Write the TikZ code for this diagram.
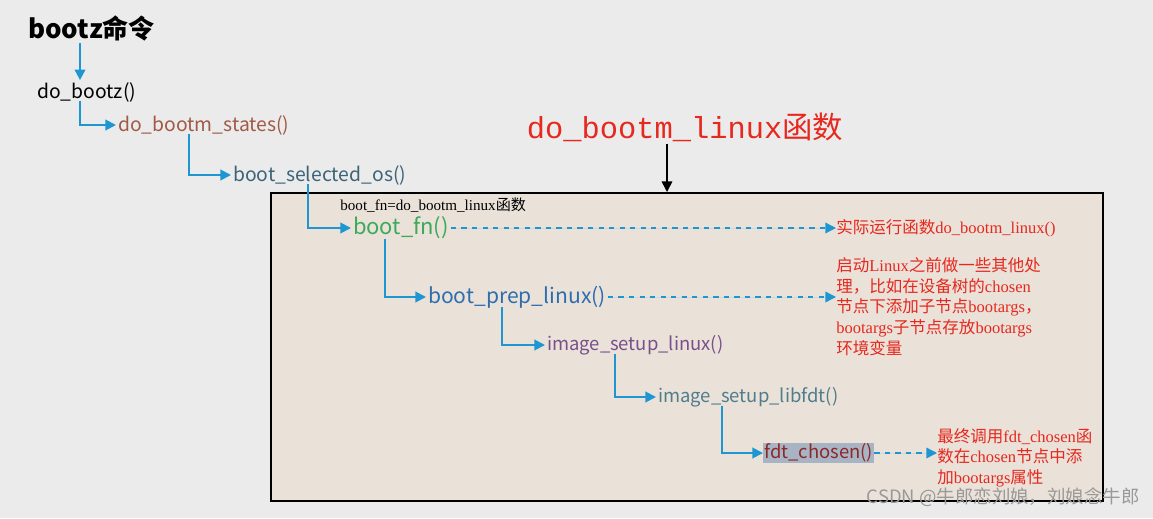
\documentclass[tikz,border=0pt]{standalone}
\usepackage{fontspec}
\setmainfont{Liberation Serif}
\setmonofont{Liberation Mono}
\newfontfamily\cjk{Noto Sans CJK SC}
\usetikzlibrary{arrows.meta}

\definecolor{pagegray}{RGB}{235,235,235}
\definecolor{boxbeige}{RGB}{234,225,216}
\definecolor{flowblue}{RGB}{30,150,210}
\definecolor{notered}{RGB}{230,40,30}
\definecolor{statescol}{RGB}{160,90,70}
\definecolor{selcol}{RGB}{60,100,120}
\definecolor{fncol}{RGB}{60,170,90}
\definecolor{prepcol}{RGB}{45,110,175}
\definecolor{setupcol}{RGB}{120,80,140}
\definecolor{libfdtcol}{RGB}{80,125,140}
\definecolor{chosencol}{RGB}{140,40,40}
\definecolor{marked}{RGB}{168,180,195}

\newcommand\zh[1]{{\cjk #1}}

\begin{document}
\begin{tikzpicture}[x=0.02cm, y=-0.02cm]
    % Define styles
    \tikzset{
        func/.style={anchor=west, inner sep=1pt, font=\cjk\fontsize{11}{13}\selectfont},
        note/.style={anchor=west, inner sep=0pt, align=left, text=notered, font=\fontsize{9.4}{11.8}\selectfont},
        flow/.style={-{Triangle[length=6pt,width=6pt]}, draw=flowblue, line width=1.1pt},
        hint/.style={-{Triangle[length=6pt,width=6pt]}, draw=flowblue, fill=flowblue, dashed, line width=0.8pt},
        mainbox/.style={draw=black, line width=1.2pt, fill=boxbeige, anchor=north west, minimum width=16.64cm, minimum height=6.16cm}
    }

    % Page
    \fill[pagegray] (0,0) rectangle (1153,518);

    % Call chain outside the box
    \node[anchor=west, inner sep=1pt, font=\cjk\bfseries\fontsize{14.8}{16}\selectfont] (bootz) at (26,28) {bootz命令};
    \node[func] (dobootz) at (35,92) {do\_bootz()};
    \node[func, text=statescol] (states) at (116,125) {do\_bootm\_states()};
    \node[func, text=selcol] (selected) at (231,175) {boot\_selected\_os()};

    % Title and the box
    \node[text=notered, inner sep=1pt, font=\ttfamily\fontsize{17.3}{19}\selectfont] (title) at (685,127) {do\_bootm\_linux\zh{函数}};
    \node[mainbox] (box) at (270,192) {};
    \node[anchor=west, inner sep=0pt, font=\fontsize{8.6}{9}\selectfont] (fnlabel) at (340,205) {boot\_fn=do\_bootm\_linux\zh{函数}};

    % Call chain inside the box
    \node[func, text=fncol, font=\cjk\fontsize{12.5}{14}\selectfont] (bootfn) at (351,228) {boot\_fn()};
    \node[func, text=prepcol, font=\cjk\fontsize{12}{14}\selectfont] (prep) at (426,297) {boot\_prep\_linux()};
    \node[func, text=setupcol, font=\cjk\fontsize{10.5}{12}\selectfont] (setup) at (545,345) {image\_setup\_linux()};
    \node[func, text=libfdtcol, font=\cjk\fontsize{10.5}{12}\selectfont] (libfdt) at (656,397) {image\_setup\_libfdt()};
    \node[func, text=chosencol, fill=marked, inner sep=0.5pt, font=\cjk\fontsize{10.5}{12}\selectfont] (chosen) at (763,453) {fdt\_chosen()};

    % Notes
    \node[note] (runnote) at (836,228) {\zh{实际运行函数}do\_bootm\_linux()};
    \node[note, anchor=north west] (prepnote) at (836,257) {\zh{启动}Linux\zh{之前做一些其他处}\\\zh{理，比如在设备树的}chosen\\\zh{节点下添加子节点}bootargs\zh{，}\\bootargs\zh{子节点存放}bootargs\\\zh{环境变量}};
    \node[note, anchor=north west] (chosennote) at (937,428) {\zh{最终调用}fdt\_chosen\zh{函}\\\zh{数在}chosen\zh{节点中添}\\\zh{加}bootargs\zh{属性}};

    % Watermark
    \node[anchor=east, inner sep=0pt, text=black!40, font=\cjk\fontsize{10.5}{12}\selectfont] (mark) at (1140,497) {CSDN @牛郎恋刘娘，刘娘念牛郎};

    % Connectors
    \draw[flow] (bootz.south west) ++(54,0) coordinate (c1) -- (c1 |- dobootz.north);
    \draw[flow] (dobootz.south west) ++(45,-3) |- (states.west);
    \draw[flow] (states.south west) ++(73,-3) |- (selected.west);
    \draw[flow] (selected.south west) ++(77,-3) |- (bootfn.west);
    \draw[flow] (bootfn.south west) ++(34,-2) |- (prep.west);
    \draw[flow] (prep.south west) ++(76,-3) |- (setup.west);
    \draw[flow] (setup.south west) ++(70,-3) |- (libfdt.west);
    \draw[flow] (libfdt.south west) ++(66,-3) |- (chosen.west);
    \draw[-{Triangle[length=6pt,width=6pt]}, line width=0.9pt] (title.south) ++(-18,0) coordinate (c2) -- (c2 |- box.north);

    \draw[hint] (bootfn.east) -- (runnote.west);
    \draw[hint] (prep.east) -- (prep.east -| prepnote.west);
    \draw[hint] (chosen.east) -- (chosen.east -| chosennote.west);
\end{tikzpicture}
\end{document}
